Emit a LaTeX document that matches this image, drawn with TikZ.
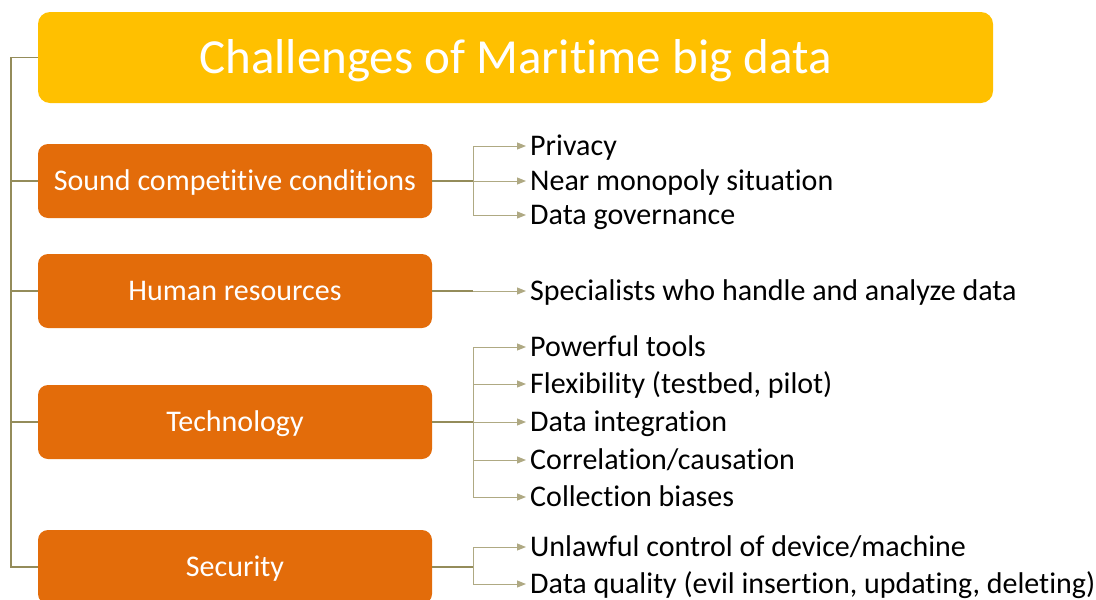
\documentclass[tikz,border=0pt]{standalone}
\usepackage{fontspec}
\setmainfont{Carlito}[Ligatures=NoCommon]
\usepackage{tikz}
\usetikzlibrary{arrows.meta}
\definecolor{titlegold}{RGB}{255,192,0}
\definecolor{boxorange}{RGB}{227,108,10}
\definecolor{linegray}{RGB}{148,140,90}
\tikzstyle{titlebox} = [rectangle,rounded corners=12pt,fill=titlegold,text=white,
    minimum width=955pt,minimum height=91pt,inner sep=0pt,text height=40pt,text depth=9pt,
    font=\fontsize{49}{58}\selectfont
]
\tikzstyle{catbox} = [rectangle,rounded corners=10pt,fill=boxorange,text=white,
    minimum width=394pt,minimum height=74pt,inner sep=0pt,text height=25pt,text depth=6pt,
    font=\fontsize{30}{36}\selectfont
]
\tikzstyle{item} = [anchor=west,inner sep=4pt,text height=25pt,text depth=6pt,
    font=\fontsize{30}{36}\selectfont
]
\tikzstyle{trunk} = [draw=linegray,line width=1.4pt]
\tikzstyle{leaf} = [draw=linegray!75,line width=1pt,-{Triangle[length=9pt,width=7pt]}]
\newcommand{\leafto}[2]{
    \draw[leaf] (#1) |- (#2.west);
}

\begin{document}
\begin{tikzpicture}[x=1pt,y=1pt]
	\useasboundingbox (0,0) rectangle (1096,-600);

	\node(title) at (515.5,-57.5) [titlebox] {Challenges of Maritime big data};
	\node(sound) at (235,-181) [catbox] {Sound competitive conditions};
	\node(human) at (235,-291) [catbox] {Human resources};
	\node(tech) at (235,-422) [catbox] {Technology};
	\node(secur) at (235,-567) [catbox] {Security};

	% left spine
	\coordinate(spine) at (11,-57.5);
	\draw[trunk] (title.west) -- (spine) |- (secur.west);
	\draw[trunk] (spine |- sound.west) -- (sound.west);
	\draw[trunk] (spine |- human.west) -- (human.west);
	\draw[trunk] (spine |- tech.west) -- (tech.west);

	% sound competitive conditions
	\node(sound1) at (526,-146) [item] {Privacy};
	\node(sound2) at (526,-181) [item] {Near monopoly situation};
	\node(sound3) at (526,-215) [item] {Data governance};
	\coordinate(jsound) at (473,-181);
	\draw[trunk] (sound.east) -- (jsound);
	\leafto{jsound}{sound1}
	\leafto{jsound}{sound2}
	\leafto{jsound}{sound3}

	% human resources
	\node(human1) at (526,-291) [item] {Specialists who handle and analyze data};
	\coordinate(jhuman) at (473,-291);
	\draw[trunk] (human.east) -- (jhuman);
	\leafto{jhuman}{human1}

	% technology
	\node(tech1) at (526,-347) [item] {Powerful tools};
	\node(tech2) at (526,-384) [item] {Flexibility (testbed, pilot)};
	\node(tech3) at (526,-422) [item] {Data integration};
	\node(tech4) at (526,-460) [item] {Correlation/causation};
	\node(tech5) at (526,-497) [item] {Collection biases};
	\coordinate(jtech) at (473,-422);
	\draw[trunk] (tech.east) -- (jtech);
	\foreach \i in {1,...,5}{
		\leafto{jtech}{tech\i}
	}

	% security
	\node(secur1) at (526,-547) [item] {Unlawful control of device/machine};
	\node(secur2) at (526,-584) [item] {Data quality (evil insertion, updating, deleting)};
	\coordinate(jsecur) at (473,-567);
	\draw[trunk] (secur.east) -- (jsecur);
	\leafto{jsecur}{secur1}
	\leafto{jsecur}{secur2}
\end{tikzpicture}
\end{document}
